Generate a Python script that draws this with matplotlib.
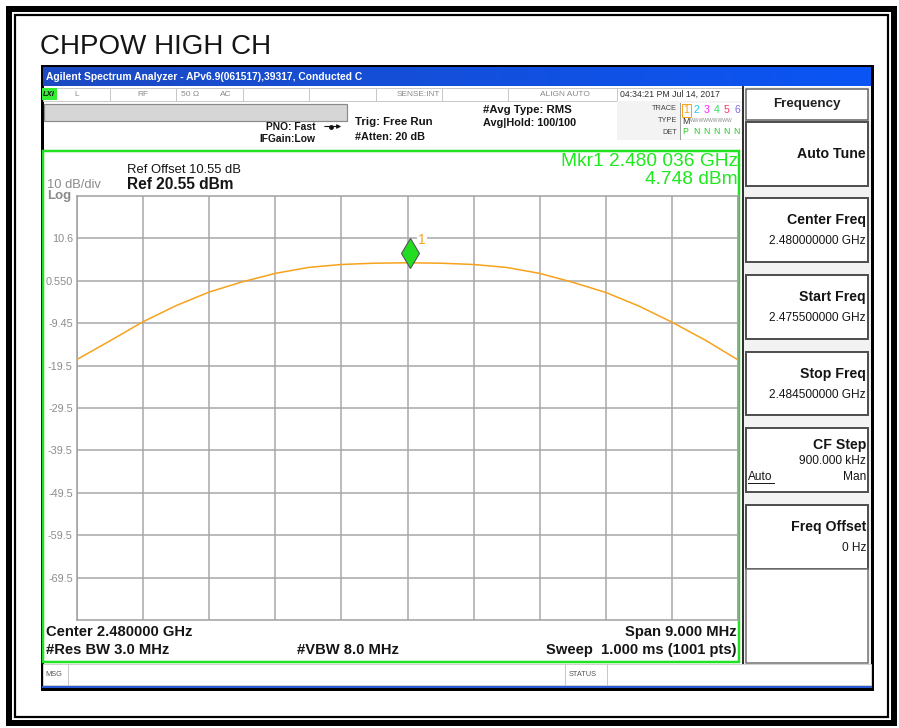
import numpy as np
import matplotlib.pyplot as plt
from matplotlib.patches import Rectangle
from matplotlib.colors import LinearSegmentedColormap
from matplotlib.transforms import ScaledTranslation

plt.rcParams['font.family'] = ['Liberation Sans', 'DejaVu Sans']

# trace 1, every half division
freq_ghz = [2.47550, 2.47595, 2.47640, 2.47685, 2.47730, 2.47775, 2.47820,
            2.47865, 2.47910, 2.47955, 2.48000, 2.48045, 2.48090, 2.48135,
            2.48180, 2.48225, 2.48270, 2.48315, 2.48360, 2.48405, 2.48450]
level_dbm = [-18.0, -13.6, -9.1, -5.3, -2.1, 0.3, 2.3, 3.7, 4.4, 4.7, 4.8,
             4.7, 4.4, 3.7, 2.3, 0.2, -2.2, -5.4, -9.2, -13.4, -18.1]

mkr_freq = 2.480036
mkr_level = 4.748
start_ghz = 2.4755
span_ghz = 0.009
ref_level = 20.55
db_div = 10
ytick_labels = ['10.6', '0.550', '-9.45', '-19.5', '-29.5', '-39.5',
                '-49.5', '-59.5', '-69.5']

softkeys = ['Auto Tune', 'Center Freq', 'Start Freq', 'Stop Freq',
            'CF Step', 'Freq Offset']
softkey_values = [None, '2.480000000 GHz', '2.475500000 GHz',
                  '2.484500000 GHz', '900.000 kHz', '0 Hz']

W, H = 899, 728
fig = plt.figure(figsize=(W / 100, H / 100), dpi=100)
bg = fig.add_axes([0, 0, 1, 1])
bg.axis('off')

GRAY = '#8a8a8a'
DARK = '#151515'
GREEN = '#1ee81e'
ORANGE = '#f7a21b'


def box(x0, y0, x1, y1, fc='none', ec='none', lw=0.0, z=1):
    bg.add_patch(Rectangle((x0, y0), x1 - x0, y1 - y0, facecolor=fc,
                           edgecolor=ec, linewidth=lw * 0.72, zorder=z))


def txt(x, y, s, size, color=DARK, weight='normal', ha='left', **kw):
    bg.text(x, y, s, fontsize=size, color=color, fontweight=weight,
            ha=ha, va='center', zorder=5, **kw)


def vline(x, y0, y1, color='#c8c8c8', lw=1.0, z=2):
    bg.plot([x, x], [y0, y1], color=color, lw=lw * 0.72, zorder=z)


# page frame and title
box(8.5, 8.5, 894, 722.5, ec='black', lw=6)
box(14.5, 14.5, 888, 716.5, ec='black', lw=2.2)
txt(40, 47, 'CHPOW HIGH CH', 20)

# analyzer window
box(41.5, 66, 872, 689, fc='white', ec='black', lw=3, z=1)
cmap = LinearSegmentedColormap.from_list('bar', ['#1c4ac2', '#0a55f5'])
bg.imshow(np.linspace(0, 1, 256)[None, :], extent=(43, 870.5, 86.5, 67.5),
          cmap=cmap, aspect='auto', zorder=2)
txt(46, 77.5, 'Agilent Spectrum Analyzer - APv6.9(061517),39317, Conducted C',
    7.4, color='white', weight='bold')

# status row
box(43, 87.5, 742, 100.5, fc='white', ec='#c8c8c8', lw=1, z=2)
box(42, 88, 57, 99.5, fc='#33ee33', z=3)
txt(43, 94, 'LXI', 5.5, weight='bold', style='italic')
for sx in [110, 176, 243, 309, 376, 442, 508, 617]:
    vline(sx, 88, 100.5)
txt(77, 94, 'L', 6, color=GRAY, ha='center')
txt(143, 94, 'RF', 6, color=GRAY, ha='center')
txt(190, 94, '50 Ω', 6, color=GRAY, ha='center')
txt(226, 94, 'AC', 6, color=GRAY, ha='center')
txt(440, 94, 'SENSE:INT', 6, color=GRAY, ha='right')
txt(565, 94, 'ALIGN AUTO', 6, color=GRAY, ha='center')
txt(620, 94, '04:34:21 PM Jul 14, 2017', 6.3, color='#303030')

# settings area
box(43.5, 103.5, 346.5, 121, fc='#d6d6d6', ec='#8a8a8a', lw=1.2, z=2)
txt(315, 127, 'PNO: Fast', 7.4, weight='bold', ha='right')
txt(315, 139.5, 'IFGain:Low', 7.4, weight='bold', ha='right')
bg.annotate('', xy=(344, 126.5), xytext=(322, 126.5), zorder=5,
            arrowprops=dict(arrowstyle='-|>', color=DARK, lw=0.8,
                            mutation_scale=6))
bg.plot([331], [126.5], 'o', color=DARK, ms=2.5, zorder=6)
txt(355, 122, 'Trig: Free Run', 8.2, weight='bold')
txt(355, 137, '#Atten: 20 dB', 7.8, weight='bold')
txt(483, 110, '#Avg Type: RMS', 8.2, weight='bold')
txt(483, 123, 'Avg|Hold: 100/100', 7.8, weight='bold')

box(617, 101, 742, 140, fc='#f3f3f3', z=2)
box(680, 102.5, 741, 139, fc='white', z=2)
vline(680, 102.5, 139, color='#a0a0a0')
txt(677, 109, 'TRACE', 5.3, color='#444444', ha='right')
txt(677, 121, 'TYPE', 5.3, color='#444444', ha='right')
txt(677, 132, 'DET', 5.3, color='#444444', ha='right')
trace_cols = [ORANGE, '#22c8f0', '#ff22ff', '#33dd66', '#ff3366', '#7b68ee']
for i, c in enumerate(trace_cols):
    txt(686 + i * 10.2, 110, str(i + 1), 7.6, color=c, ha='center')
box(681.5, 103.5, 691, 116.5, ec=ORANGE, lw=1, z=4)
txt(682, 121, 'M', 6.3, color='#333333')
txt(690, 121, 'WWWWWWWWW', 3.6, color='#888888')
txt(682, 132, 'P', 6.3, color='#22cc22')
for i in range(5):
    txt(696 + i * 10.2, 132, 'N', 6.3, color='#22cc22', ha='center')

# display area with green frame
box(42.5, 150.5, 739, 661.5, ec='#22e022', lw=2.5, z=3)
txt(127, 170, 'Ref Offset 10.55 dB', 9.4)
txt(127, 184.5, 'Ref 20.55 dBm', 11.2, weight='bold')
txt(47, 185, '10 dB/div', 9.3, color=GRAY)
txt(47, 196, 'Log', 9.5, color=GRAY, weight='bold')
txt(738, 161, 'Mkr1 2.480 036 GHz', 13.8, color=GREEN, ha='right')
txt(738, 180, '4.748 dBm', 13.8, color=GREEN, ha='right')
txt(46, 632, 'Center 2.480000 GHz', 10.6, weight='bold')
txt(737, 632, 'Span 9.000 MHz', 10.6, weight='bold', ha='right')
txt(46, 650, '#Res BW 3.0 MHz', 10.6, weight='bold')
txt(297, 650, '#VBW 8.0 MHz', 10.6, weight='bold')
txt(737, 650, 'Sweep  1.000 ms (1001 pts)', 10.6, weight='bold', ha='right')

# softkey panel
box(742, 87, 871, 664, fc='#f2f2f2', z=2)
vline(743, 87, 664, color='#303030', lw=2, z=3)
box(745.5, 88.5, 868, 120, fc='white', ec='#606060', lw=1.5, z=3)
txt(807, 104, 'Frequency', 9.6, weight='bold', ha='center', color='#222222')
tops = [122, 198, 275, 352, 428, 505]
bottoms = [186, 262, 339, 415, 492, 569]
for name, val, t, b in zip(softkeys, softkey_values, tops, bottoms):
    box(745.5, t, 868, b, fc='white', ec='#505050', lw=2, z=3)
    if val is None:
        txt(866, (t + b) / 2, name, 10.2, weight='bold', ha='right')
    elif name == 'CF Step':
        txt(866, t + 17, name, 10.2, weight='bold', ha='right')
        txt(866, t + 33, val, 8.6, ha='right')
        txt(866, t + 49, 'Man', 8.6, ha='right')
        txt(748, t + 49, 'Auto', 8.6)
        bg.plot([748, 774], [t + 55, t + 55], color=DARK, lw=0.7, zorder=5)
    else:
        txt(866, t + 22, name, 10.2, weight='bold', ha='right')
        txt(866, t + 43, val, 8.6, ha='right')
box(745.5, 569, 868, 663, fc='white', ec='#707070', lw=1.5, z=3)

# message bar
box(43, 664, 871, 685, fc='white', ec='#d0d0d0', lw=1, z=4)
bg.plot([43, 871], [686.5, 686.5], color='#2a5bd7', lw=2 * 0.72, zorder=5)
vline(68, 664, 685, z=5)
vline(565, 664, 685, z=5)
vline(607, 664, 685, z=5)
txt(45, 674, 'MSG', 5.3, color='#555555')
txt(569, 674, 'STATUS', 5.3, color='#555555')

bg.set_xlim(0, W)
bg.set_ylim(H, 0)

# graticule and trace
L, R, T, B = 77, 738, 196, 620
ax = fig.add_axes([L / W, 1 - B / H, (R - L) / W, (B - T) / H])
ax.set_facecolor('white')
ax.set_xlim(start_ghz, start_ghz + span_ghz)
ax.set_ylim(ref_level - 10 * db_div, ref_level)
ax.set_xticks([start_ghz + k * span_ghz / 10 for k in range(11)])
ax.set_yticks([ref_level - (k + 1) * db_div for k in range(9)])
ax.set_yticklabels(ytick_labels)
ax.tick_params(axis='y', length=0, pad=3, labelsize=7.8, labelcolor='#8c8c8c')
ax.tick_params(axis='x', length=0, labelbottom=False)
ax.grid(True, color='#a8a8a8', lw=1.1)
for s in ax.spines.values():
    s.set_color('#a0a0a0')
    s.set_linewidth(1.1)
ax.plot(freq_ghz, level_dbm, color=ORANGE, lw=1.1, zorder=3)

lift = ax.transData + ScaledTranslation(0, 0.105, fig.dpi_scale_trans)
ax.plot([mkr_freq], [mkr_level], marker='d', ms=15, color='#22dd22',
        mec='#555555', mew=0.8, transform=lift, zorder=4, clip_on=False)
ax.annotate('1', xy=(mkr_freq, mkr_level), xytext=(6, 14),
            textcoords='offset points', color=ORANGE, fontsize=10, zorder=5,
            bbox=dict(fc='white', ec='none', pad=1.0))

fig.savefig('out.png', dpi=100)
